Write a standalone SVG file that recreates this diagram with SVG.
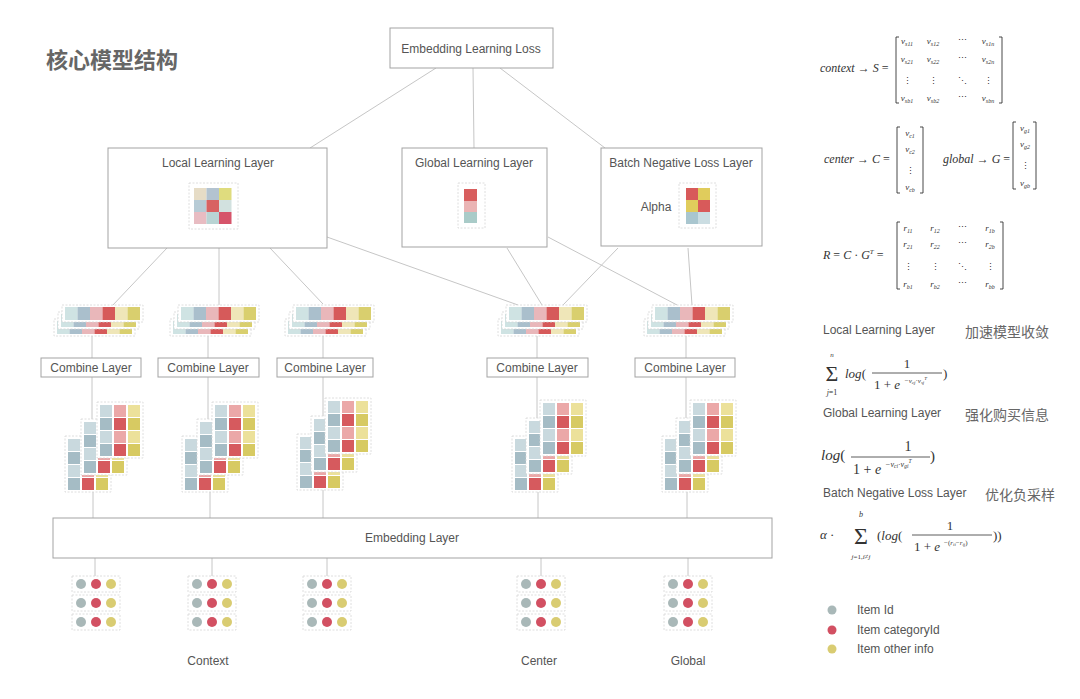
<svg xmlns="http://www.w3.org/2000/svg" xmlns:xlink="http://www.w3.org/1999/xlink" width="1080" height="699" viewBox="0 0 1080 699">
<style>
.box{fill:#fff;stroke:#a3a3a3;stroke-width:1}
.t{font-family:"Liberation Sans",Arial,sans-serif;font-size:12px;fill:#555}
.c{text-anchor:middle}
.ln{stroke:#c6c6c6;stroke-width:1;fill:none}
.dsh{fill:#fff;stroke:#d6d6d6;stroke-width:0.8;stroke-dasharray:2 1.5}
.b1{fill:#c9d9de}.b2{fill:#a5bcc5}.r1{fill:#eba8a8}.r2{fill:#d65a5e}.y1{fill:#ece19a}.y2{fill:#d7ca62}
.m{font-family:"Liberation Serif","Times New Roman",serif;fill:#333;font-style:italic}
.u{font-style:normal}
.br{fill:none;stroke:#333;stroke-width:0.9}
.cn{font-family:"Noto Sans CJK SC",sans-serif;fill:#666}
</style>
<defs>
<g id="blk">
<rect class="dsh" x="0" y="0" width="46" height="56"/>
<rect class="b1" x="3" y="3" width="12" height="12"/><rect class="r1" x="17" y="3" width="12" height="12"/><rect class="y1" x="31" y="3" width="12" height="12"/>
<rect class="b2" x="3" y="16" width="12" height="12"/><rect class="r2" x="17" y="16" width="12" height="12"/><rect class="y2" x="31" y="16" width="12" height="12"/>
<rect class="b1" x="3" y="29" width="12" height="12"/><rect class="r1" x="17" y="29" width="12" height="12"/><rect class="y1" x="31" y="29" width="12" height="12"/>
<rect class="b2" x="3" y="42" width="12" height="12"/><rect class="r2" x="17" y="42" width="12" height="12"/><rect class="y2" x="31" y="42" width="12" height="12"/>
</g>
<g id="strip">
<rect class="dsh" x="0" y="0" width="81" height="17"/>
<rect x="3" y="2" width="12.5" height="13" fill="#cfe3e3"/><rect x="15.5" y="2" width="12.5" height="13" fill="#aabfcc"/><rect x="28" y="2" width="12.5" height="13" fill="#e9b7ba"/><rect x="40.5" y="2" width="12.5" height="13" fill="#d65a5a"/><rect x="53" y="2" width="12.5" height="13" fill="#efe6b8"/><rect x="65.5" y="2" width="12.5" height="13" fill="#d9cf6e"/>
</g>
<g id="drow">
<rect class="dsh" x="-24" y="-8" width="48" height="16"/>
<circle cx="-15" cy="0" r="5" fill="#a9b8b8"/><circle cx="0" cy="0" r="5" fill="#d25062"/><circle cx="15" cy="0" r="5" fill="#d9cc72"/>
</g>
<g id="dots"><use xlink:href="#drow" y="0"/><use xlink:href="#drow" y="19"/><use xlink:href="#drow" y="38"/></g>
</defs>
<rect width="1080" height="699" fill="#fff"/>

<text x="46" y="68" class="cn" font-size="22" font-weight="bold">核心模型结构</text>

<g id="connectors">
<line class="ln" x1="436" y1="68" x2="310" y2="148"/>
<line class="ln" x1="473" y1="68" x2="474" y2="148"/>
<line class="ln" x1="500" y1="68" x2="605" y2="148"/>
<line class="ln" x1="167" y1="248" x2="112" y2="306"/>
<line class="ln" x1="219" y1="248" x2="219" y2="306"/>
<line class="ln" x1="270" y1="248" x2="323" y2="304"/>
<line class="ln" x1="327" y1="237" x2="518" y2="305"/>
<line class="ln" x1="507" y1="248" x2="542" y2="305"/>
<line class="ln" x1="618" y1="248" x2="563" y2="305"/>
<line class="ln" x1="548" y1="237" x2="677" y2="305"/>
<line class="ln" x1="688" y1="248" x2="692" y2="305"/>
<line class="ln" x1="92" y1="336" x2="92" y2="419"/>
<line class="ln" x1="208" y1="336" x2="208" y2="419"/>
<line class="ln" x1="323" y1="336" x2="323" y2="416"/>
<line class="ln" x1="537" y1="336" x2="537" y2="418"/>
<line class="ln" x1="686" y1="336" x2="686" y2="418"/>
<line class="ln" x1="93" y1="492" x2="93" y2="518"/>
<line class="ln" x1="210" y1="492" x2="210" y2="518"/>
<line class="ln" x1="323" y1="490" x2="323" y2="518"/>
<line class="ln" x1="538" y1="492" x2="538" y2="518"/>
<line class="ln" x1="687" y1="492" x2="687" y2="518"/>
<line class="ln" x1="95" y1="558" x2="95" y2="578"/>
<line class="ln" x1="212" y1="558" x2="212" y2="578"/>
<line class="ln" x1="327" y1="558" x2="327" y2="578"/>
<line class="ln" x1="541" y1="558" x2="541" y2="578"/>
<line class="ln" x1="688" y1="558" x2="688" y2="578"/>
</g>

<g id="ell">
<rect class="box" x="390" y="28" width="163" height="40"/>
<text x="471" y="53" class="t c">Embedding Learning Loss</text>
</g>

<g id="local">
<rect class="box" x="108" y="148" width="219" height="100"/>
<text x="218" y="167" class="t c">Local Learning Layer</text>
<rect class="dsh" x="189" y="183" width="49" height="46"/>
<rect x="194" y="188" width="12.5" height="12" fill="#e6dcc6"/><rect x="206.5" y="188" width="12.5" height="12" fill="#b3c3d0"/><rect x="219" y="188" width="12.5" height="12" fill="#dfdc7e"/>
<rect x="194" y="200" width="12.5" height="12" fill="#b7cbd5"/><rect x="206.5" y="200" width="12.5" height="12" fill="#d86262"/><rect x="219" y="200" width="12.5" height="12" fill="#d2e1df"/>
<rect x="194" y="212" width="12.5" height="12" fill="#e8bcc2"/><rect x="206.5" y="212" width="12.5" height="12" fill="#b9d4d4"/><rect x="219" y="212" width="12.5" height="12" fill="#d6546a"/>
</g>

<g id="global">
<rect class="box" x="402" y="148" width="145" height="99"/>
<text x="474" y="167" class="t c">Global Learning Layer</text>
<rect class="dsh" x="458" y="183" width="27" height="45"/>
<rect x="464" y="189" width="13" height="12" fill="#d85e5e"/>
<rect x="464" y="201" width="13" height="11" fill="#eab4b4"/>
<rect x="464" y="212" width="13" height="11" fill="#a9cbc8"/>
</g>

<g id="batch">
<rect class="box" x="601" y="148" width="161" height="98"/>
<text x="681" y="167" class="t c">Batch Negative Loss Layer</text>
<text x="656" y="211" class="t c">Alpha</text>
<rect class="dsh" x="679" y="183" width="37" height="45"/>
<rect x="686" y="188" width="12" height="12" fill="#d85a5a"/><rect x="698" y="188" width="12" height="12" fill="#e0cc5c"/>
<rect x="686" y="200" width="12" height="12" fill="#e0cc5c"/><rect x="698" y="200" width="12" height="12" fill="#d85a5a"/>
<rect x="686" y="212" width="12" height="12" fill="#a9c6cf"/><rect x="698" y="212" width="12" height="12" fill="#cbdde2"/>
</g>

<g id="emb-strips-1"><use xlink:href="#strip" x="54" y="319"/><use xlink:href="#strip" x="58" y="312"/><use xlink:href="#strip" x="62" y="305"/></g>
<g id="emb-strips-2"><use xlink:href="#strip" x="170" y="319"/><use xlink:href="#strip" x="174" y="312"/><use xlink:href="#strip" x="178" y="305"/></g>
<g id="emb-strips-3"><use xlink:href="#strip" x="285" y="319"/><use xlink:href="#strip" x="289" y="312"/><use xlink:href="#strip" x="293" y="305"/></g>
<g id="emb-strips-4"><use xlink:href="#strip" x="498" y="319"/><use xlink:href="#strip" x="502" y="312"/><use xlink:href="#strip" x="506" y="305"/></g>
<g id="emb-strips-5"><use xlink:href="#strip" x="644" y="319"/><use xlink:href="#strip" x="648" y="312"/><use xlink:href="#strip" x="652" y="305"/></g>

<g id="combine-1"><rect class="box" x="41" y="358" width="100" height="19"/><text x="91" y="372" class="t c">Combine Layer</text></g>
<g id="combine-2"><rect class="box" x="158" y="358" width="101" height="19"/><text x="208" y="372" class="t c">Combine Layer</text></g>
<g id="combine-3"><rect class="box" x="277" y="358" width="96" height="19"/><text x="325" y="372" class="t c">Combine Layer</text></g>
<g id="combine-4"><rect class="box" x="487" y="358" width="101" height="19"/><text x="537" y="372" class="t c">Combine Layer</text></g>
<g id="combine-5"><rect class="box" x="635" y="358" width="100" height="19"/><text x="685" y="372" class="t c">Combine Layer</text></g>

<g id="mat-1"><use xlink:href="#blk" x="65" y="436"/><use xlink:href="#blk" x="81" y="419"/><use xlink:href="#blk" x="97" y="402"/></g>
<g id="mat-2"><use xlink:href="#blk" x="182" y="436"/><use xlink:href="#blk" x="197" y="419"/><use xlink:href="#blk" x="212" y="402"/></g>
<g id="mat-3"><use xlink:href="#blk" x="297" y="434"/><use xlink:href="#blk" x="311" y="416"/><use xlink:href="#blk" x="325" y="398"/></g>
<g id="mat-4"><use xlink:href="#blk" x="512" y="436"/><use xlink:href="#blk" x="526" y="418"/><use xlink:href="#blk" x="540" y="400"/></g>
<g id="mat-5"><use xlink:href="#blk" x="662" y="436"/><use xlink:href="#blk" x="676" y="418"/><use xlink:href="#blk" x="690" y="400"/></g>

<g id="embedding-layer">
<rect class="box" x="53" y="518" width="719" height="40"/>
<text x="412" y="542" class="t c">Embedding Layer</text>
</g>

<g id="input-1"><use xlink:href="#dots" x="96" y="584"/></g>
<g id="input-2"><use xlink:href="#dots" x="212" y="584"/></g>
<g id="input-3"><use xlink:href="#dots" x="327" y="584"/></g>
<g id="input-4"><use xlink:href="#dots" x="541" y="584"/></g>
<g id="input-5"><use xlink:href="#dots" x="688" y="584"/></g>

<text x="208" y="665" class="t c">Context</text>
<text x="539" y="665" class="t c">Center</text>
<text x="688" y="665" class="t c">Global</text>

<g id="formulas">
<text x="820" y="72" class="m" font-size="12">context <tspan class="u">→</tspan> S <tspan class="u">=</tspan></text>
<path class="br" d="M899,37 h-3 v66 h3 M999,37 h3 v66 h-3"/>
<g class="m" font-size="9" text-anchor="middle">
<text x="907" y="44">v<tspan font-size="6" dy="2">s11</tspan></text>
<text x="933" y="44">v<tspan font-size="6" dy="2">s12</tspan></text>
<text x="962" y="43" class="u">⋯</text>
<text x="988" y="44">v<tspan font-size="6" dy="2">s1n</tspan></text>
<text x="907" y="62">v<tspan font-size="6" dy="2">s21</tspan></text>
<text x="933" y="62">v<tspan font-size="6" dy="2">s22</tspan></text>
<text x="962" y="61" class="u">⋯</text>
<text x="988" y="62">v<tspan font-size="6" dy="2">s2n</tspan></text>
<text x="907" y="84" class="u">⋮</text>
<text x="933" y="84" class="u">⋮</text>
<text x="962" y="84" class="u">⋱</text>
<text x="988" y="84" class="u">⋮</text>
<text x="907" y="101">v<tspan font-size="6" dy="2">sb1</tspan></text>
<text x="933" y="101">v<tspan font-size="6" dy="2">sb2</tspan></text>
<text x="962" y="100" class="u">⋯</text>
<text x="988" y="101">v<tspan font-size="6" dy="2">sbn</tspan></text>
</g>
<text x="824" y="163" class="m" font-size="12">center <tspan class="u">→</tspan> C <tspan class="u">=</tspan></text>
<path class="br" d="M900,127 h-3 v66 h3 M920,127 h3 v66 h-3"/>
<text x="943" y="163" class="m" font-size="12">global <tspan class="u">→</tspan> G <tspan class="u">=</tspan></text>
<path class="br" d="M1016,122 h-3 v67 h3 M1033,122 h3 v67 h-3"/>
<g class="m" font-size="9" text-anchor="middle">
<text x="910" y="136">v<tspan font-size="6" dy="2">c1</tspan></text>
<text x="910" y="152">v<tspan font-size="6" dy="2">c2</tspan></text>
<text x="910" y="174" class="u">⋮</text>
<text x="910" y="190">v<tspan font-size="6" dy="2">cb</tspan></text>
<text x="1025" y="131">v<tspan font-size="6" dy="2">g1</tspan></text>
<text x="1025" y="147">v<tspan font-size="6" dy="2">g2</tspan></text>
<text x="1025" y="169" class="u">⋮</text>
<text x="1025" y="186">v<tspan font-size="6" dy="2">gb</tspan></text>
</g>
<text x="823" y="259" class="m" font-size="12">R <tspan class="u">=</tspan> C <tspan class="u">·</tspan> G<tspan font-size="7" dy="-5">T</tspan><tspan class="u" dy="5"> =</tspan></text>
<path class="br" d="M900,222 h-3 v67 h3 M1000,222 h3 v67 h-3"/>
<g class="m" font-size="9" text-anchor="middle">
<text x="908" y="231">r<tspan font-size="6" dy="2">11</tspan></text>
<text x="935" y="231">r<tspan font-size="6" dy="2">12</tspan></text>
<text x="962" y="230" class="u">⋯</text>
<text x="990" y="231">r<tspan font-size="6" dy="2">1b</tspan></text>
<text x="908" y="247">r<tspan font-size="6" dy="2">21</tspan></text>
<text x="935" y="247">r<tspan font-size="6" dy="2">22</tspan></text>
<text x="962" y="246" class="u">⋯</text>
<text x="990" y="247">r<tspan font-size="6" dy="2">2b</tspan></text>
<text x="908" y="270" class="u">⋮</text>
<text x="935" y="270" class="u">⋮</text>
<text x="962" y="270" class="u">⋱</text>
<text x="990" y="270" class="u">⋮</text>
<text x="908" y="287">r<tspan font-size="6" dy="2">b1</tspan></text>
<text x="935" y="287">r<tspan font-size="6" dy="2">b2</tspan></text>
<text x="962" y="286" class="u">⋯</text>
<text x="990" y="287">r<tspan font-size="6" dy="2">bb</tspan></text>
</g>

<text x="823" y="334" class="t" font-size="11.5">Local Learning Layer</text>
<text x="965" y="337" class="cn" font-size="14">加速模型收敛</text>
<text x="832" y="381" class="m u" font-size="22" text-anchor="middle">Σ</text>
<text x="832" y="357" class="m" font-size="7" text-anchor="middle">n</text>
<text x="832" y="395" class="m" font-size="8" text-anchor="middle">j<tspan class="u">=1</tspan></text>
<text x="845" y="378" class="m" font-size="13">log<tspan class="u">(</tspan></text>
<text x="907" y="368" class="m u" font-size="13" text-anchor="middle">1</text>
<line x1="872" y1="373" x2="942" y2="373" stroke="#333" stroke-width="0.8"/>
<text x="874" y="389" class="m u" font-size="13">1 + <tspan class="m">e</tspan></text>
<text x="904" y="383" class="m" font-size="7">−v<tspan font-size="5" dy="1">cj</tspan><tspan class="u" dy="-1">·</tspan>v<tspan font-size="5" dy="1">sj</tspan><tspan font-size="5" dy="-4">T</tspan></text>
<text x="943" y="378" class="m u" font-size="13">)</text>

<text x="823" y="417" class="t" font-size="11.5">Global Learning Layer</text>
<text x="965" y="420" class="cn" font-size="14">强化购买信息</text>
<text x="821" y="460" class="m" font-size="15">log<tspan class="u">(</tspan></text>
<text x="908" y="451" class="m u" font-size="14" text-anchor="middle">1</text>
<line x1="851" y1="457" x2="930" y2="457" stroke="#333" stroke-width="0.8"/>
<text x="853" y="474" class="m u" font-size="14">1 + <tspan class="m">e</tspan></text>
<text x="885" y="467" class="m" font-size="8">−v<tspan font-size="5.5" dy="1">ci</tspan><tspan class="u" dy="-1">·</tspan>v<tspan font-size="5.5" dy="1">gi</tspan><tspan font-size="5.5" dy="-5">T</tspan></text>
<text x="930" y="461" class="m u" font-size="15">)</text>

<text x="823" y="497" class="t" font-size="11.5">Batch Negative Loss Layer</text>
<text x="985" y="500" class="cn" font-size="14">优化负采样</text>
<text x="820" y="539" class="m" font-size="13">α <tspan class="u">·</tspan></text>
<text x="861" y="544" class="m u" font-size="24" text-anchor="middle">Σ</text>
<text x="861" y="517" class="m" font-size="8" text-anchor="middle">b</text>
<text x="861" y="559" class="m" font-size="7" text-anchor="middle">j<tspan class="u">=1,</tspan>i<tspan class="u">≠</tspan>j</text>
<text x="877" y="540" class="m" font-size="13"><tspan class="u">(</tspan>log<tspan class="u">(</tspan></text>
<text x="950" y="530" class="m u" font-size="13" text-anchor="middle">1</text>
<line x1="912" y1="535" x2="992" y2="535" stroke="#333" stroke-width="0.8"/>
<text x="914" y="551" class="m u" font-size="13">1 + <tspan class="m">e</tspan></text>
<text x="944" y="545" class="m" font-size="7"><tspan class="u">−(</tspan>r<tspan font-size="5" dy="1">ii</tspan><tspan class="u" dy="-1">−</tspan>r<tspan font-size="5" dy="1">ij</tspan><tspan class="u" dy="-1">)</tspan></text>
<text x="993" y="540" class="m u" font-size="13">))</text>
</g>

<g id="legend">
<circle cx="832" cy="610" r="4.5" fill="#a9b8b8"/>
<circle cx="832" cy="630" r="4.5" fill="#d25062"/>
<circle cx="832" cy="649" r="4.5" fill="#d9cc72"/>
<text x="857" y="614" class="t">Item Id</text>
<text x="857" y="634" class="t">Item categoryId</text>
<text x="857" y="653" class="t">Item other info</text>
</g>
</svg>
